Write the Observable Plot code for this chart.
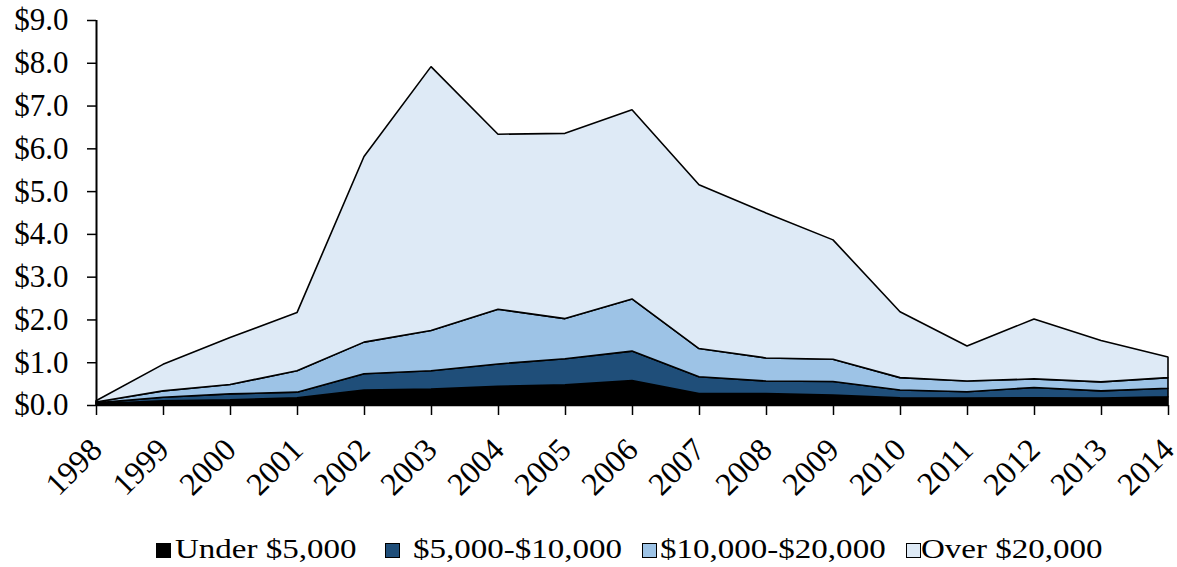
<!DOCTYPE html>
<html>
<head>
<meta charset="utf-8">
<script src="https://cdn.jsdelivr.net/npm/d3@7"></script>
<script src="https://cdn.jsdelivr.net/npm/@observablehq/plot@0.6"></script>
<style>
  html, body { margin: 0; padding: 0; background: #fff; }
  #wrap { position: relative; width: 1177px; height: 567px; }
  #chart svg { display: block; }
  #legend { display: block; }
</style>
</head>
<body>
<div id="wrap">
  <div id="chart"></div>
  <svg id="legend" width="1177" height="47"></svg>
</div>
<script>
const years = [1998,1999,2000,2001,2002,2003,2004,2005,2006,2007,2008,2009,2010,2011,2012,2013,2014];
const seriesNames = ["Under $5,000", "$5,000-$10,000", "$10,000-$20,000", "Over $20,000"];
const seriesColors = ["#000000", "#1f4e79", "#9dc3e6", "#deeaf6"];
const under5k   = [0.03,0.10,0.12,0.17,0.35,0.37,0.44,0.47,0.57,0.27,0.27,0.23,0.17,0.16,0.17,0.16,0.19];
const from5to10 = [0.02,0.08,0.14,0.13,0.38,0.43,0.52,0.61,0.69,0.39,0.29,0.32,0.18,0.15,0.24,0.17,0.20];
const from10to20= [0.02,0.15,0.22,0.50,0.74,0.94,1.28,0.94,1.22,0.66,0.54,0.52,0.29,0.25,0.20,0.21,0.25];
const over20k   = [0.03,0.62,1.10,1.36,4.34,6.17,4.09,4.33,4.42,3.83,3.39,2.79,1.54,0.82,1.40,0.97,0.48];
const yTicks = [0,1,2,3,4,5,6,7,8,9];
const legendSwatchX = [156, 385, 642, 906];
const legendTextX = [175, 413, 660, 921];

const FONT = '"Liberation Serif", "Times New Roman", serif';
const seriesValues = [under5k, from5to10, from10to20, over20k];
const data = [];
seriesNames.forEach((s, i) => {
  years.forEach((yr, j) => data.push({series: s, year: yr, value: seriesValues[i][j]}));
});

const chart = Plot.plot({
  width: 1177,
  height: 520,
  marginLeft: 96,
  marginRight: 9,
  marginTop: 20,
  marginBottom: 115,
  style: {fontFamily: FONT, fontSize: "31px", color: "#000", background: "#fff"},
  x: {domain: [1998, 2014], axis: null},
  y: {domain: [0, 9], axis: null},
  color: {domain: seriesNames, range: seriesColors},
  marks: [
    Plot.areaY(data, {x: "year", y: "value", fill: "series", z: "series", stroke: "#000", strokeWidth: 1.6, strokeLinejoin: "miter", order: seriesNames}),
    Plot.axisY({ticks: yTicks, label: null, tickFormat: d => "$" + d.toFixed(1), tickSize: 9, tickPadding: 19, stroke: "#000", strokeWidth: 1.5}),
    Plot.axisX({ticks: years, label: null, tickFormat: d => String(d), tickSize: 10, tickPadding: 29, tickRotate: -45, fontSize: 32, stroke: "#000", strokeWidth: 1.5}),
    Plot.ruleX([1998], {stroke: "#000", strokeWidth: 2}),
    Plot.ruleY([0], {stroke: "#000", strokeWidth: 1.5})
  ]
});
document.getElementById("chart").appendChild(chart);

// legend (SVG below the chart; chart svg is 520 tall, legend occupies 520..567)
const lg = d3.select("#legend");
const off = 520;
seriesNames.forEach((s, i) => {
  lg.append("rect")
    .attr("x", legendSwatchX[i] + 0.5).attr("y", 543 - off + 0.5)
    .attr("width", 14).attr("height", 14)
    .attr("fill", seriesColors[i]).attr("stroke", "#000").attr("stroke-width", 1);
  const tx = legendTextX[i];
  lg.append("text")
    .attr("x", tx).attr("y", 558 - off)
    .attr("transform", `translate(${tx},0) scale(1.18,1) translate(${-tx},0)`)
    .attr("font-family", FONT).attr("font-size", 28).attr("fill", "#000")
    .text(s);
});
</script>
</body>
</html>
